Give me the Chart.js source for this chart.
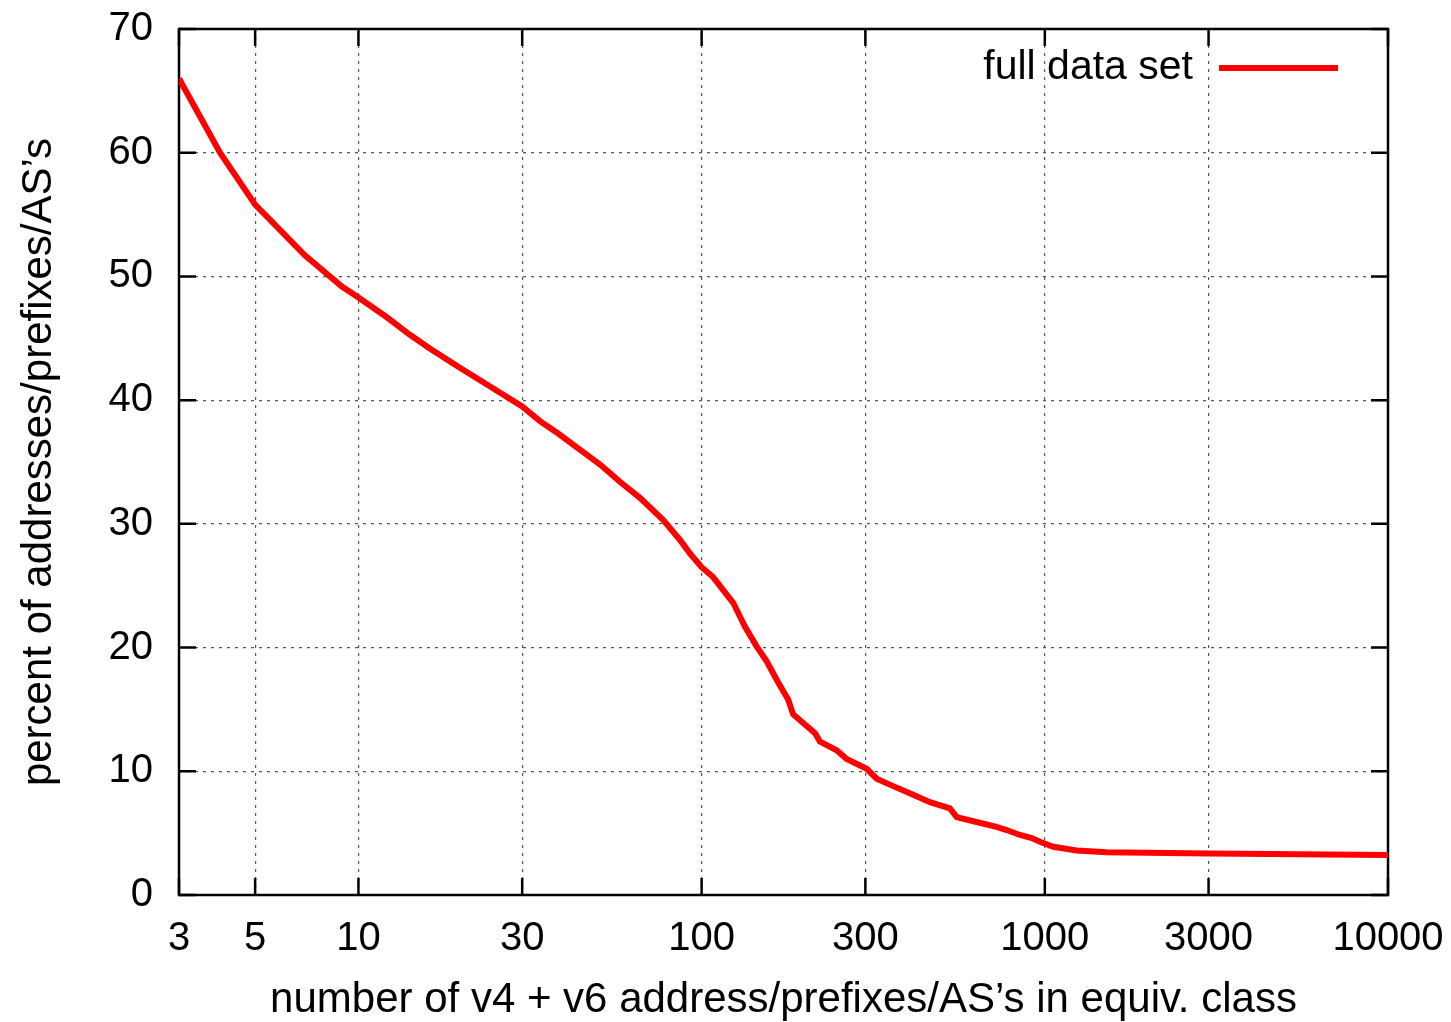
<!DOCTYPE html>
<html>
<head>
<meta charset="utf-8">
<script src="https://cdn.jsdelivr.net/npm/chart.js@4/dist/chart.umd.min.js"></script>
<style>
  html, body { margin: 0; padding: 0; background: #fff; }
  #wrap { width: 1451px; height: 1022px; }
</style>
</head>
<body>
<div id="wrap"><canvas id="equivChart" width="1451" height="1022"></canvas></div>
<script>
// class size (log x) vs percent
const classSize = [3, 3.95, 5, 6.98, 8.93, 10, 12.1, 14.1, 16.1, 19.8, 24.2, 30, 33.8, 38.2, 45.2,
  50.6, 57.8, 66.1, 77.3, 86.5, 92.5, 100, 108, 123.7, 133.7, 144.6, 154.6, 167, 178.7, 184.8,
  197.6, 213.8, 221.2, 247.4, 264.6, 302.7, 323.6, 361.6, 413.6, 462.6, 529, 553.6, 632.6, 723,
  774, 847, 916, 968, 1059, 1239, 1514, 3000, 10000];
const percentVals = [66.0, 60.0, 55.8, 51.7, 49.2, 48.3, 46.7, 45.3, 44.2, 42.6, 41.1, 39.5, 38.3, 37.3, 35.8,
  34.8, 33.4, 32.1, 30.3, 28.7, 27.6, 26.5, 25.7, 23.6, 21.7, 20.1, 18.9, 17.2, 15.8, 14.6,
  13.9, 13.1, 12.4, 11.7, 11.0, 10.2, 9.4, 8.8, 8.1, 7.5, 7.0, 6.3, 5.9, 5.5,
  5.25, 4.85, 4.6, 4.3, 3.9, 3.6, 3.45, 3.35, 3.23];
const xTickVals = [3, 5, 10, 30, 100, 300, 1000, 3000, 10000];
const yTickVals = [0, 10, 20, 30, 40, 50, 60, 70];
const seriesName = 'full data set';

const FONT = 'Liberation Sans, Arial, Helvetica, sans-serif';
const points = classSize.map((x, i) => ({ x: x, y: percentVals[i] }));

// gnuplot-style frame + inward ticks on all four sides
const framePlugin = {
  id: 'frame',
  beforeDatasetsDraw(chart) {
    const { ctx, chartArea: a, scales } = chart;
    const tl = 17;
    ctx.save();
    ctx.strokeStyle = '#000';
    ctx.lineWidth = 2.5;
    ctx.beginPath();
    xTickVals.forEach(v => {
      const px = scales.x.getPixelForValue(v);
      ctx.moveTo(px, a.bottom); ctx.lineTo(px, a.bottom - tl);
      ctx.moveTo(px, a.top); ctx.lineTo(px, a.top + tl);
    });
    yTickVals.forEach(v => {
      const py = scales.y.getPixelForValue(v);
      ctx.moveTo(a.left, py); ctx.lineTo(a.left + tl, py);
      ctx.moveTo(a.right, py); ctx.lineTo(a.right - tl, py);
    });
    ctx.stroke();
    ctx.strokeRect(a.left, a.top, a.right - a.left, a.bottom - a.top);
    ctx.restore();
  }
};

// legend: text on the left, line sample on the right
const legendPlugin = {
  id: 'keyBox',
  afterDraw(chart) {
    const { ctx } = chart;
    const y = 68;
    ctx.save();
    ctx.font = '41px ' + FONT;
    ctx.fillStyle = '#000';
    ctx.textAlign = 'right';
    ctx.textBaseline = 'middle';
    ctx.fillText(seriesName, 1193, y);
    ctx.strokeStyle = '#ff0000';
    ctx.lineWidth = 6;
    ctx.beginPath();
    ctx.moveTo(1219, y); ctx.lineTo(1338, y);
    ctx.stroke();
    ctx.restore();
  }
};

new Chart(document.getElementById('equivChart'), {
  type: 'line',
  data: {
    datasets: [{
      label: seriesName,
      data: points,
      borderColor: '#ff0000',
      borderWidth: 6,
      pointRadius: 0,
      tension: 0,
      fill: false
    }]
  },
  options: {
    responsive: false,
    animation: false,
    layout: { padding: { top: 29, right: 63, left: 0, bottom: 0 } },
    plugins: { legend: { display: false }, tooltip: { enabled: false } },
    scales: {
      x: {
        type: 'logarithmic',
        min: 3, max: 10000,
        afterBuildTicks: s => { s.ticks = xTickVals.map(v => ({ value: v })); },
        afterFit: s => { s.height = 127; s.paddingLeft = 0; s.paddingRight = 0; },
        ticks: {
          autoSkip: false, maxRotation: 0, padding: 20,
          color: '#000', font: { family: FONT, size: 40 },
          callback: v => String(v)
        },
        grid: { color: '#555', lineWidth: 1.2, drawTicks: false },
        border: { display: false, dash: [3, 5] },
        title: {
          display: true,
          text: 'number of v4 + v6 address/prefixes/AS\u2019s in equiv. class',
          color: '#000', font: { family: FONT, size: 42 },
          padding: { top: 0, bottom: -4 }
        }
      },
      y: {
        min: 0, max: 70,
        afterBuildTicks: s => { s.ticks = yTickVals.map(v => ({ value: v })); },
        afterFit: s => { s.width = 179; s.paddingTop = 0; s.paddingBottom = 0; },
        ticks: {
          padding: 26, color: '#000', font: { family: FONT, size: 40 }
        },
        grid: { color: '#555', lineWidth: 1.2, drawTicks: false },
        border: { display: false, dash: [3, 5] },
        title: {
          display: true,
          text: 'percent of addresses/prefixes/AS\u2019s',
          color: '#000', font: { family: FONT, size: 42 },
          padding: { top: 14, bottom: 0 }
        }
      }
    }
  },
  plugins: [framePlugin, legendPlugin]
});
</script>
</body>
</html>
